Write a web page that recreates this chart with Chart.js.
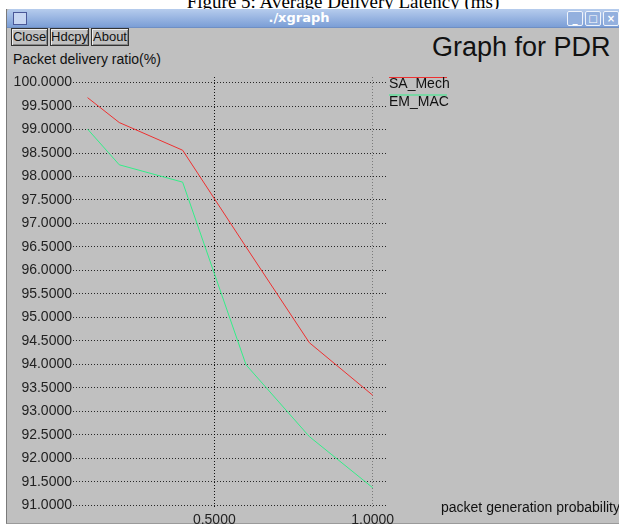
<!DOCTYPE html>
<html>
<head>
<meta charset="utf-8">
<script src="https://cdn.jsdelivr.net/npm/chart.js@4"></script>
<style>
  body { margin: 0; width: 619px; height: 526px; background: #fff; overflow: hidden; position: relative; font-family: "Liberation Sans", Arial, sans-serif; }
  .caption { position: absolute; left: 0; width: 686px; top: -8px; text-align: center; font: 19px/19px "Liberation Serif", "Times New Roman", serif; color: #000; }
  .win { position: absolute; left: 6px; top: 9px; width: 640px; height: 514px; background: #c0c0c0; border-left: 1px solid #7a7a7a; border-bottom: 1px solid #9a9a9a; }
  .titlebar { position: absolute; left: 0; top: 0; width: 100%; height: 18px; background: linear-gradient(#b6cced, #7b9ed6); border-top-left-radius: 4px; border-bottom: 1px solid #6f8fc4; }
  .titlebar .txt { position: absolute; left: 252px; top: 1px; width: 80px; text-align: center; color: #fff; font: bold 13px "DejaVu Sans", sans-serif; }
  .icon { position: absolute; left: 6px; top: 3px; width: 12px; height: 11px; border: 1px solid #4a5898; background: #c7d6f2; }
  .wbtn { position: absolute; top: 2px; width: 14px; height: 13px; border: 1px solid #eef3fb; border-radius: 2px; background: #93b0de; color: #fff; font: bold 10px/13px "DejaVu Sans", sans-serif; text-align: center; }
  .btn { position: absolute; top: 19px; height: 16px; border: 1px solid #333; box-shadow: inset 1px 1px 0 #eee, inset -1px -1px 0 #888; font-size: 13px; line-height: 16px; text-align: center; color: #111; }
  .big { position: absolute; left: 425px; top: 23px; font-size: 27px; color: #111; }
  .ylab { position: absolute; left: 6px; top: 42px; font-size: 14px; color: #111; }
  canvas { position: absolute; left: 0; top: 0; }
</style>
</head>
<body>
<div class="caption">Figure 5: Average Delivery Latency (ms)</div>
<div class="win">
  <div class="titlebar">
    <div class="icon"></div>
    <div class="txt">./xgraph</div>
    <div class="wbtn" style="left:560px">_</div>
    <div class="wbtn" style="left:578px">□</div>
    <div class="wbtn" style="left:596px">×</div>
  </div>
  <div class="btn" style="left:4px;width:35px">Close</div>
  <div class="btn" style="left:43px;width:37px">Hdcpy</div>
  <div class="btn" style="left:84px;width:36px">About</div>
  <div class="big">Graph for PDR</div>
  <div class="ylab">Packet delivery ratio(%)</div>
</div>
<canvas id="pdr" width="619" height="526"></canvas>
<script>
// packet generation probability
const probs = [0.1, 0.2, 0.4, 0.6, 0.8, 1.0];
const saMech = [99.68, 99.15, 98.56, 96.50, 94.46, 93.34];
const emMac = [99.01, 98.25, 97.88, 93.99, 92.46, 91.37];

const yTicks = [91, 91.5, 92, 92.5, 93, 93.5, 94, 94.5, 95, 95.5, 96, 96.5, 97, 97.5, 98, 98.5, 99, 99.5, 100];
const xTicks = [0.5, 1.0];

const toPts = (ys) => probs.map((p, i) => ({ x: p, y: ys[i] }));

// xgraph style legend + x axis label, drawn beside the plot
const xgraphExtras = {
  id: "xgraphExtras",
  afterDraw(chart) {
    const ctx = chart.ctx;
    ctx.save();
    ctx.font = "14px 'Liberation Sans', Arial, sans-serif";
    ctx.textBaseline = "middle";
    ctx.textAlign = "left";
    chart.data.datasets.forEach((ds, i) => {
      const y = 77.5 + i * 17.5;
      ctx.strokeStyle = ds.borderColor;
      ctx.lineWidth = 1;
      ctx.beginPath();
      ctx.moveTo(389, y);
      ctx.lineTo(447, y);
      ctx.stroke();
      ctx.fillStyle = "#111";
      ctx.fillText(ds.label, 389, y + 7);
    });
    ctx.fillText("packet generation probability", 441, 508);
    ctx.restore();
  }
};

new Chart(document.getElementById("pdr"), {
  type: "line",
  data: {
    datasets: [
      { label: "SA_Mech", data: toPts(saMech), borderColor: "#ee3030", borderWidth: 1, pointRadius: 0, tension: 0 },
      { label: "EM_MAC", data: toPts(emMac), borderColor: "#33ee88", borderWidth: 1, pointRadius: 0, tension: 0 }
    ]
  },
  options: {
    responsive: false,
    animation: false,
    layout: { padding: { left: 0, top: 77, right: 232, bottom: 0 } },
    plugins: { legend: { display: false }, tooltip: { enabled: false } },
    scales: {
      x: {
        type: "linear",
        min: 0.054,
        max: 1.045,
        afterBuildTicks: (s) => { s.ticks = xTicks.map(v => ({ value: v })); },
        afterFit: (s) => { s.height = 19; },
        ticks: {
          padding: 5,
          color: "#222",
          font: { family: "'Liberation Sans', Arial, sans-serif", size: 14 },
          callback: (v) => Number(v).toFixed(4),
          maxRotation: 0
        },
        grid: {
          drawTicks: false,
          color: (c) => (c.tick && c.tick.value === 1 ? "#7a7a7a" : "#111")
        },
        border: { display: false, dash: [1, 2] }
      },
      y: {
        type: "linear",
        min: 90.96,
        max: 100.12,
        afterBuildTicks: (s) => { s.ticks = yTicks.map(v => ({ value: v })); },
        afterFit: (s) => { s.width = 73; },
        ticks: {
          padding: 1,
          color: "#222",
          font: { family: "'Liberation Sans', Arial, sans-serif", size: 14 },
          callback: (v) => Number(v).toFixed(4)
        },
        grid: { drawTicks: false, color: "rgba(0,0,0,0.8)" },
        border: { display: false, dash: [1, 2] }
      }
    }
  },
  plugins: [xgraphExtras]
});
</script>
</body>
</html>
